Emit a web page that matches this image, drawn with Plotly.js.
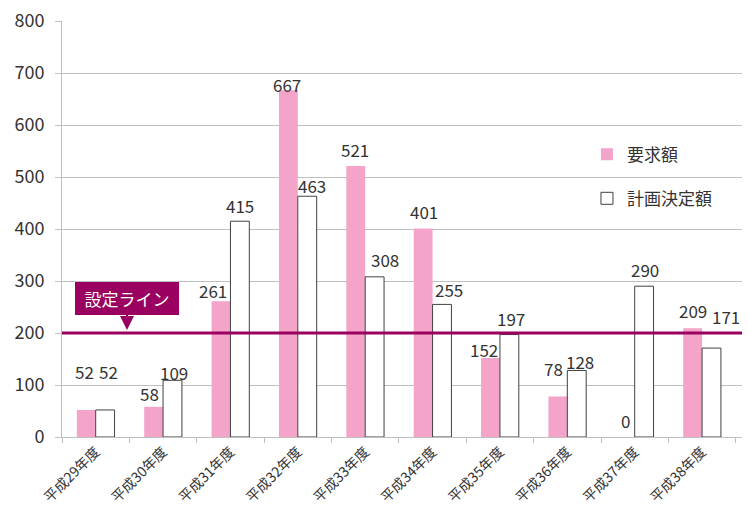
<!DOCTYPE html>
<html>
<head>
<meta charset="utf-8">
<script src="https://cdn.plot.ly/plotly-3.0.1.min.js"></script>
<style>html,body{margin:0;padding:0;background:#fff;}#chart{width:748px;height:506px;}</style>
</head>
<body>
<div id="chart"></div>
<script>
const categories = ["平成29年度","平成30年度","平成31年度","平成32年度","平成33年度","平成34年度","平成35年度","平成36年度","平成37年度","平成38年度"];
const requested = [52, 58, 261, 667, 521, 401, 152, 78, 0, 209];
const planned = [52, 109, 415, 463, 308, 255, 197, 128, 290, 171];
const seriesNames = ["要求額", "計画決定額"];
const settingLineValue = 200;
const settingLineLabel = "設定ライン";
const yTicks = [0, 100, 200, 300, 400, 500, 600, 700, 800];

// style: hand-placed data-label offsets in pixels [dx, dy above bar top]
const requestedLabelOffsets = [[-2,38],[-4.5,13],[-8.5,11],[-1.5,6],[-1,17],[0.5,16.5],[-6.5,8],[-4.5,27.5],[0,17],[0,18]];
const plannedLabelOffsets = [[3.5,38],[1,8],[0.5,16],[4.5,11],[10.5,17],[6.5,15],[1.5,16],[3.5,8.5],[0.5,16.5],[14.5,32]];

const FONT = '"Noto Sans CJK JP", "Noto Sans", sans-serif';
const MAGENTA = '#990060';
const BAR_HALF = 0.14; // half group offset in category units

const traces = [
  {
    type: 'bar', name: seriesNames[0], x: categories, y: requested,
    marker: {color: '#F4A3C9', line: {width: 0}},
    legendgroup: 'a', hoverinfo: 'none'
  },
  {
    type: 'bar', name: seriesNames[1], x: categories, y: planned,
    marker: {color: '#FFFFFF', line: {width: 1, color: '#404040'}},
    legendgroup: 'b', hoverinfo: 'none'
  }
];

const labelAnnotations = [];
function addLabels(values, offsets, side) {
  values.forEach((v, i) => {
    labelAnnotations.push({
      xref: 'x', yref: 'y', x: i + side * BAR_HALF, y: v,
      xshift: offsets[i][0], yshift: offsets[i][1],
      xanchor: 'center', yanchor: 'middle',
      text: String(v), showarrow: false,
      font: {size: 17, color: '#333333', family: FONT}
    });
  });
}
addLabels(requested, requestedLabelOffsets, -1);
addLabels(planned, plannedLabelOffsets, 1);

const layout = {
  width: 748, height: 506,
  margin: {l: 62, r: 6, t: 21, b: 69},
  paper_bgcolor: '#fff', plot_bgcolor: '#fff',
  font: {family: FONT, color: '#333333'},
  barmode: 'group', bargap: 0.44, bargroupgap: 0,
  xaxis: {
    type: 'category', tickangle: -45,
    tickfont: {size: 14, color: '#333333', family: FONT},
    ticks: 'outside', tickson: 'boundaries', ticklen: 5, tickcolor: '#BFBFBF',
    showline: true, linecolor: '#BFBFBF', linewidth: 1,
    showgrid: false, zeroline: false
  },
  yaxis: {
    range: [0, 800], tickvals: yTicks,
    tickfont: {size: 18, color: '#333333', family: FONT},
    ticks: 'outside', ticklen: 6, tickcolor: '#BFBFBF',
    ticklabelstandoff: 7,
    showgrid: true, gridcolor: '#BFBFBF', gridwidth: 1,
    showline: true, linecolor: '#BFBFBF', linewidth: 1,
    zeroline: false
  },
  legend: {
    x: 0.772, y: 0.722, xanchor: 'left', yanchor: 'top',
    bgcolor: 'rgba(0,0,0,0)', traceorder: 'grouped', tracegroupgap: 19,
    font: {size: 17, color: '#333333', family: FONT},
    itemwidth: 30
  },
  showlegend: true,
  shapes: [
    {type: 'line', xref: 'paper', x0: 0, x1: 1, yref: 'y', y0: settingLineValue, y1: settingLineValue,
     line: {color: MAGENTA, width: 3}}
  ],
  annotations: labelAnnotations.concat([
    {xref: 'paper', x: 0.0956, yref: 'y', y: settingLineValue + 6,
     text: settingLineLabel, showarrow: true, ax: 0, ay: -31,
     arrowhead: 2, arrowsize: 1.4, arrowwidth: 2, arrowcolor: MAGENTA,
     bgcolor: MAGENTA, bordercolor: MAGENTA, borderpad: 3, width: 96, height: 25,
     font: {size: 17, color: '#FFFFFF', family: FONT}}
  ])
};

Plotly.newPlot('chart', traces, layout, {displayModeBar: false, staticPlot: true});
</script>
</body>
</html>
